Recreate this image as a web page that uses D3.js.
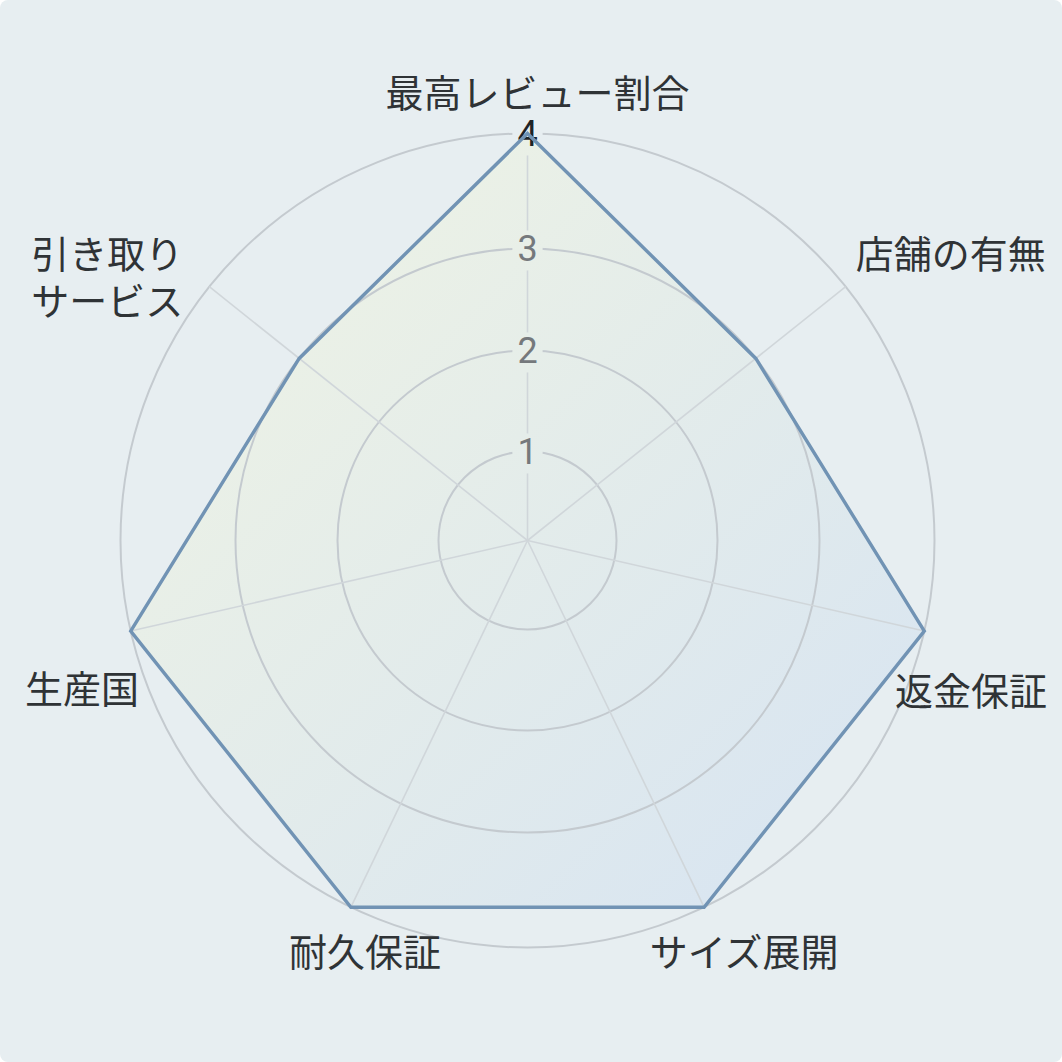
<!DOCTYPE html>
<html>
<head>
<meta charset="utf-8">
<script src="https://cdn.jsdelivr.net/npm/d3@7"></script>
<style>
  html, body { margin: 0; padding: 0; background: #ffffff; }
  svg { display: block; }
</style>
</head>
<body>
<svg id="drawing_region_radar"></svg>
<script>
const AXIS_LABELS = [
  "最高レビュー割合",
  "店舗の有無",
  "返金保証",
  "サイズ展開",
  "耐久保証",
  "生産国",
  "引き取り\nサービス",
];
const SCORES = [4, 3, 4, 4, 4, 4, 3];
const TICK_VALUES = [1, 2, 3, 4];

// label tweaks [dx, dy], applied after the angle rule
const LABEL_NUDGE = [[10, 0], [-8, 0], [0, 36], [30, 5], [24, 5], [0, 34], [-8, 0]];

const W = 1062;
const H = 1062;
const cx = 527.5;
const cy = 540.5;
const BG = "#e7eef1";
const LABEL_FONT = 38;

const svg = d3.select("#drawing_region_radar").attr("width", W).attr("height", H);

svg
  .append("rect")
  .attr("width", W)
  .attr("height", H)
  .attr("rx", 8)
  .attr("fill", BG);

const defs = svg.append("defs");
const grad = defs
  .append("linearGradient")
  .attr("id", "areaFill")
  .attr("x1", 0)
  .attr("y1", 0)
  .attr("x2", 1)
  .attr("y2", 1);
grad.append("stop").attr("offset", "0%").attr("stop-color", "#f3f6df").attr("stop-opacity", 0.8);
grad.append("stop").attr("offset", "100%").attr("stop-color", "#d2e1f3").attr("stop-opacity", 0.8);

// radial scale (outer step is a bit wider in the reference)
const rscale = d3.scaleLinear().domain([0, 1, 2, 3, 4]).range([0, 89, 190, 292, 407]);

const n = AXIS_LABELS.length;
const angle = (i) => (i * 2 * Math.PI) / n;
const px = (i, r) => cx + Math.sin(angle(i)) * r;
const py = (i, r) => cy - Math.cos(angle(i)) * r;

const radarLine = d3
  .lineRadial()
  .angle((d, i) => angle(i))
  .radius((d) => rscale(d))
  .curve(d3.curveLinearClosed);

const chart = svg.append("g");

// area fill under the grid
chart
  .append("path")
  .attr("transform", `translate(${cx}, ${cy})`)
  .attr("d", radarLine(SCORES))
  .attr("fill", "url(#areaFill)")
  .attr("stroke", "none");

// tick labels first (hidden measure) so the grid can be masked around them
const tickG = chart
  .selectAll(".tick")
  .data(TICK_VALUES)
  .join("g")
  .attr("class", "tick")
  .attr("transform", (d) => `translate(${cx}, ${cy - rscale(d)})`);

tickG
  .append("text")
  .attr("text-anchor", "middle")
  .attr("dy", "0.36em")
  .style("font-family", "Roboto, 'Noto Sans', sans-serif")
  .style("font-size", "36px")
  .attr("fill", (d) => (d === 4 ? "#1e2326" : "#75797c"))
  .text((d) => d);

const mask = defs.append("mask").attr("id", "gridMask").attr("maskUnits", "userSpaceOnUse")
  .attr("x", 0).attr("y", 0).attr("width", W).attr("height", H);
mask.append("rect").attr("width", W).attr("height", H).attr("fill", "white");
tickG.each(function (d) {
  const bb = d3.select(this).select("text").node().getBBox();
  mask
    .append("rect")
    .attr("x", cx + bb.x - 5)
    .attr("y", cy - rscale(d) + bb.y + 2)
    .attr("width", bb.width + 10)
    .attr("height", bb.height - 2)
    .attr("fill", "black");
});

const grid = chart.insert("g", ".tick").attr("mask", "url(#gridMask)");

// rings
grid
  .selectAll(".ring")
  .data(TICK_VALUES)
  .join("circle")
  .attr("class", "ring")
  .attr("cx", cx)
  .attr("cy", cy)
  .attr("r", (d) => rscale(d))
  .attr("fill", "none")
  .attr("stroke", "#c4cacf")
  .attr("stroke-width", 2);

// spokes
grid
  .selectAll(".spoke")
  .data(d3.range(n))
  .join("line")
  .attr("class", "spoke")
  .attr("x1", cx)
  .attr("y1", cy)
  .attr("x2", (i) => px(i, rscale(4)))
  .attr("y2", (i) => py(i, rscale(4)))
  .attr("stroke", "#d0d6da")
  .attr("stroke-width", 1.6);

// data outline on top
chart
  .append("path")
  .attr("transform", `translate(${cx}, ${cy})`)
  .attr("d", radarLine(SCORES))
  .attr("fill", "none")
  .attr("stroke", "#7193b4")
  .attr("stroke-width", 3.4)
  .attr("stroke-linejoin", "miter");

// axis labels
const labelR = 430;
const labelG = svg.append("g");

AXIS_LABELS.forEach((label, i) => {
  const sx = Math.sin(angle(i));
  const sy = -Math.cos(angle(i));
  const x = px(i, labelR) + LABEL_NUDGE[i][0];
  const y = py(i, labelR) + LABEL_NUDGE[i][1];

  let anchor = "middle";
  if (Math.abs(sx) > 0.1 && Math.abs(sy) < 0.8) anchor = sx > 0 ? "start" : "end";
  const baseY = sy > 0.1 ? y + LABEL_FONT * 0.86 : y - 4;

  const t = labelG
    .append("text")
    .attr("text-anchor", anchor)
    .style("font-family", "'Noto Sans CJK JP', 'Noto Sans', sans-serif")
    .style("font-size", LABEL_FONT + "px")
    .attr("fill", "#2f3336");

  label.split("\n").forEach((line, k) => {
    t.append("tspan").attr("x", x).attr("y", baseY + k * 47).text(line);
  });

  // keep inside the card
  const bb = t.node().getBBox();
  let shift = 0;
  if (bb.x + bb.width > W - 15) shift = W - 15 - (bb.x + bb.width);
  if (bb.x < 25) shift = 25 - bb.x;
  if (shift !== 0) t.selectAll("tspan").attr("x", x + shift);
});
</script>
</body>
</html>
